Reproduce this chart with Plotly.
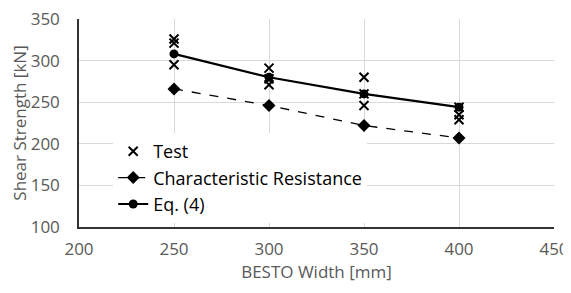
import plotly.graph_objects as go

widths = [250, 300, 350, 400]
test_x = [250, 250, 250, 300, 300, 300, 350, 350, 350, 400, 400, 400]
test_y = [326, 321, 295, 291, 278, 271, 280, 260, 246, 244, 235, 229]
char_res = [266, 246, 222, 207]
eq4 = [308, 280, 260, 244]

x_ticks = [200, 250, 300, 350, 400, 450]
y_ticks = [100, 150, 200, 250, 300, 350]

font_family = "Open Sans, Noto Sans, sans-serif"
grey = "#595959"

fig = go.Figure()
fig.add_trace(go.Scatter(
    x=test_x, y=test_y, mode="markers", name="Test",
    marker=dict(symbol="x-thin", size=9, color="black",
                line=dict(width=2, color="black")),
))
fig.add_trace(go.Scatter(
    x=widths, y=char_res, mode="lines+markers", name="Characteristic Resistance",
    line=dict(color="black", width=1.3, dash="dash"),
    marker=dict(symbol="diamond", size=10, color="black"),
))
fig.add_trace(go.Scatter(
    x=widths, y=eq4, mode="lines+markers", name="Eq. (4)",
    line=dict(color="black", width=2.2),
    marker=dict(symbol="circle", size=9, color="black"),
))

fig.update_layout(
    width=580, height=285,
    margin=dict(l=71, r=34, t=11, b=66, autoexpand=False),
    paper_bgcolor="white", plot_bgcolor="white",
    font=dict(family=font_family, color=grey, size=16),
    showlegend=True,
    legend=dict(
        x=0.072, y=0.452, xanchor="left", yanchor="top",
        bgcolor="white", font=dict(size=18, color="black", family=font_family),
        tracegroupgap=0, itemwidth=30,
    ),
    xaxis=dict(
        range=[200, 450], tickvals=x_ticks, showgrid=True, gridcolor="#d9d9d9",
        gridwidth=1, showline=True, linecolor="#333333", linewidth=1.5,
        zeroline=False, ticks="", tickfont=dict(size=17, color=grey),
        automargin=False, ticklabelstandoff=6, ticklabeloverflow="allow",
        title=dict(text="BESTO Width [mm]", font=dict(size=17, color=grey), standoff=6),
    ),
    yaxis=dict(
        range=[100, 350], tickvals=y_ticks, showgrid=True, gridcolor="#d9d9d9",
        gridwidth=1, showline=True, linecolor="#333333", linewidth=1.5,
        zeroline=False, ticks="", tickfont=dict(size=17, color=grey),
        automargin=False, ticklabelstandoff=14, ticklabeloverflow="allow",
        title=dict(text="Shear Strength [kN]", font=dict(size=17, color=grey), standoff=4),
    ),
)

fig.write_html("out.html")
